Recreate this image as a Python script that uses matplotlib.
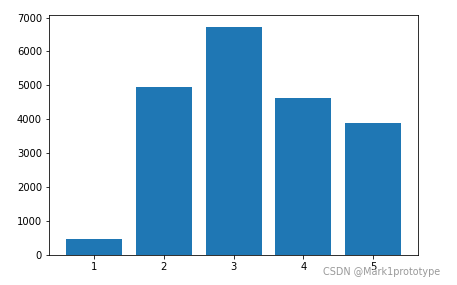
import matplotlib
matplotlib.use('Agg')
import matplotlib.pyplot as plt

# bar data
categories = [1, 2, 3, 4, 5]
values = [465, 4950, 6735, 4620, 3885]

fig = plt.figure(figsize=(457/72, 285/72), dpi=72)
ax = fig.add_axes([0.107, 0.105, 0.808, 0.842])
ax.bar(categories, values, width=0.8, color='#1f77b4')
ax.set_xticks(categories)
ax.set_yticks(range(0, 7001, 1000))
ax.tick_params(labelsize=10)

# watermark (sits over the "5" tick label like in the original)
fig.text(0.707, 0.035, 'CSDN @Mark1prototype', fontsize=9.6, color='#999999')

fig.savefig('out.png', dpi=72)
